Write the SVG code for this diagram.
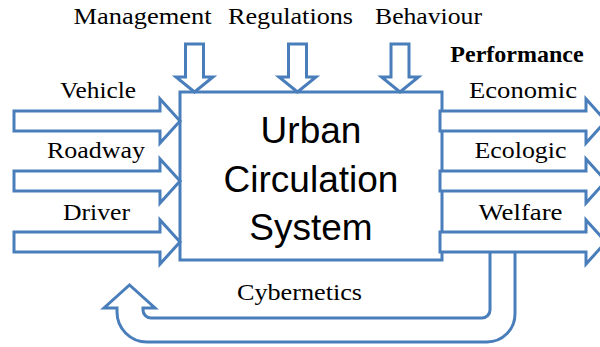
<svg xmlns="http://www.w3.org/2000/svg" width="600" height="347" viewBox="0 0 600 347">
  <style>
    .blk { fill: #ffffff; stroke: #4a7ebb; stroke-width: 3; stroke-linejoin: miter; }
    .lbl { font-family: "Liberation Serif", "Times New Roman", serif; font-size: 24px; fill: #000; text-anchor: middle; }
    .bold { font-weight: bold; }
    .title { font-family: "Liberation Sans", Arial, sans-serif; font-size: 37px; fill: #000; text-anchor: middle; }
  </style>
  <defs>
    <!-- hollow block arrows, tip at origin -->
    <polygon id="arrowRight" points="-166,-10 -20,-10 -20,-22 0,0 -20,22 -20,10 -166,10"/>
    <polygon id="arrowDown" points="-9,-48 9,-48 9,-15 18.5,-15 0,0 -18.5,-15 -9,-15"/>
  </defs>

  <!-- feedback loop, drawn under the output arrows -->
  <g id="connectors">
    <path class="blk" d="M515,252 V314 A28,28 0 0 1 487,342 H147 A30,30 0 0 1 117,312 V308 H104 L129.5,285 L155,308 H143 V310 A8,8 0 0 0 151,318 H482 A8,8 0 0 0 490,310 V252"/>
  </g>

  <!-- central system box -->
  <g id="system">
    <rect class="blk" x="180" y="92" width="262" height="168"/>
    <text class="title" x="311" y="143">Urban</text>
    <text class="title" x="311" y="192">Circulation</text>
    <text class="title" x="311" y="240">System</text>
  </g>

  <!-- inputs -->
  <g id="vehicle">
    <use href="#arrowRight" class="blk" transform="translate(180,121)"/>
    <text class="lbl" x="98" y="98" textLength="76" lengthAdjust="spacingAndGlyphs">Vehicle</text>
  </g>
  <g id="roadway">
    <use href="#arrowRight" class="blk" transform="translate(180,181)"/>
    <text class="lbl" x="96" y="158" textLength="98" lengthAdjust="spacingAndGlyphs">Roadway</text>
  </g>
  <g id="driver">
    <use href="#arrowRight" class="blk" transform="translate(180,242)"/>
    <text class="lbl" x="96.5" y="220" textLength="67" lengthAdjust="spacingAndGlyphs">Driver</text>
  </g>

  <!-- controls -->
  <g id="management">
    <use href="#arrowDown" class="blk" transform="translate(194.5,92)"/>
    <text class="lbl" x="142.5" y="24" textLength="138" lengthAdjust="spacingAndGlyphs">Management</text>
  </g>
  <g id="regulations">
    <use href="#arrowDown" class="blk" transform="translate(297.5,92)"/>
    <text class="lbl" x="290.5" y="24" textLength="125" lengthAdjust="spacingAndGlyphs">Regulations</text>
  </g>
  <g id="behaviour">
    <use href="#arrowDown" class="blk" transform="translate(400,92)"/>
    <text class="lbl" x="428.5" y="24" textLength="107" lengthAdjust="spacingAndGlyphs">Behaviour</text>
  </g>

  <!-- outputs -->
  <g id="performance">
    <text class="lbl bold" x="517" y="62">Performance</text>
  </g>
  <g id="economic">
    <use href="#arrowRight" class="blk" transform="translate(606,121)"/>
    <text class="lbl" x="523" y="98" textLength="108" lengthAdjust="spacingAndGlyphs">Economic</text>
  </g>
  <g id="ecologic">
    <use href="#arrowRight" class="blk" transform="translate(606,181)"/>
    <text class="lbl" x="520.5" y="158" textLength="92" lengthAdjust="spacingAndGlyphs">Ecologic</text>
  </g>
  <g id="welfare">
    <use href="#arrowRight" class="blk" transform="translate(606,242)"/>
    <text class="lbl" x="520.5" y="220" textLength="84" lengthAdjust="spacingAndGlyphs">Welfare</text>
  </g>

  <g id="cybernetics">
    <text class="lbl" x="299.5" y="300" textLength="125" lengthAdjust="spacingAndGlyphs">Cybernetics</text>
  </g>
</svg>
